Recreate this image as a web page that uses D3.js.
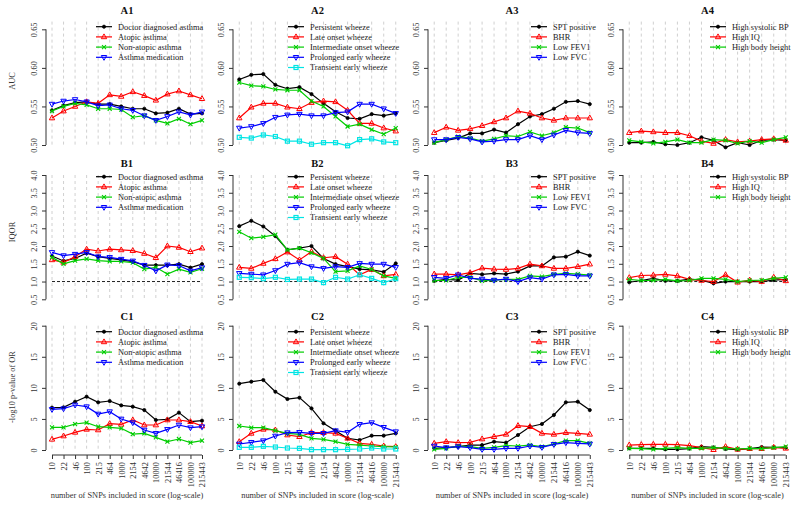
<!DOCTYPE html>
<html>
<head>
<meta charset="utf-8">
<script src="https://cdn.jsdelivr.net/npm/d3@7"></script>
<style>
body { margin: 0; background: #fff; }
svg { font-family: "Liberation Serif", "Times New Roman", serif; }
</style>
</head>
<body>
<svg id="chart" width="800" height="505"></svg>
<script>
// number of SNPs in the score, shown as tick labels on the x axis
const xLabels = ["10", "22", "46", "100", "215", "464", "1000", "2154", "4642", "10000", "21544", "46416", "100000", "215443"];

const legendAsthma = ["Doctor diagnosed asthma", "Atopic asthma", "Non-atopic asthma", "Asthma medication"];
const legendWheeze = ["Persistent wheeze", "Late onset wheeze", "Intermediate onset wheeze", "Prolonged early wheeze", "Transient early wheeze"];
const legendLung = ["SPT positive", "BHR", "Low FEV1", "Low FVC"];
const legendControl = ["High systolic BP", "High IQ", "High body height"];

// Row A: AUC
const aucAsthma = [
    [0.545, 0.551, 0.555, 0.556, 0.553, 0.553, 0.550, 0.547, 0.547, 0.541, 0.542, 0.547, 0.540, 0.541],
    [0.535, 0.544, 0.550, 0.556, 0.554, 0.565, 0.563, 0.569, 0.564, 0.558, 0.566, 0.570, 0.565, 0.560],
    [0.544, 0.550, 0.554, 0.552, 0.547, 0.547, 0.546, 0.536, 0.538, 0.532, 0.528, 0.534, 0.527, 0.532],
    [0.553, 0.557, 0.559, 0.556, 0.551, 0.552, 0.547, 0.545, 0.538, 0.532, 0.537, 0.543, 0.539, 0.543]
];
const aucWheeze = [
    [0.585, 0.591, 0.592, 0.578, 0.573, 0.575, 0.566, 0.554, 0.543, 0.535, 0.534, 0.540, 0.538, 0.541],
    [0.535, 0.549, 0.554, 0.554, 0.549, 0.547, 0.555, 0.557, 0.556, 0.545, 0.528, 0.528, 0.522, 0.518],
    [0.581, 0.577, 0.576, 0.572, 0.571, 0.571, 0.557, 0.550, 0.537, 0.524, 0.527, 0.520, 0.514, 0.522],
    [0.522, 0.524, 0.528, 0.536, 0.539, 0.540, 0.538, 0.538, 0.542, 0.543, 0.553, 0.553, 0.547, 0.541],
    [0.510, 0.509, 0.513, 0.511, 0.505, 0.505, 0.501, 0.503, 0.503, 0.499, 0.507, 0.508, 0.504, 0.503]
];
const aucLung = [
    [0.503, 0.506, 0.509, 0.515, 0.515, 0.520, 0.516, 0.527, 0.537, 0.540, 0.547, 0.556, 0.557, 0.553],
    [0.516, 0.523, 0.519, 0.521, 0.525, 0.530, 0.535, 0.544, 0.541, 0.535, 0.532, 0.535, 0.535, 0.535],
    [0.503, 0.507, 0.511, 0.509, 0.505, 0.508, 0.512, 0.511, 0.517, 0.512, 0.516, 0.523, 0.522, 0.516],
    [0.507, 0.507, 0.510, 0.508, 0.504, 0.505, 0.507, 0.507, 0.512, 0.507, 0.513, 0.519, 0.516, 0.515]
];
const aucControl = [
    [0.503, 0.503, 0.504, 0.501, 0.500, 0.503, 0.510, 0.506, 0.497, 0.503, 0.500, 0.506, 0.507, 0.506],
    [0.516, 0.518, 0.517, 0.516, 0.516, 0.512, 0.505, 0.502, 0.507, 0.504, 0.505, 0.507, 0.508, 0.506],
    [0.506, 0.504, 0.502, 0.504, 0.507, 0.503, 0.503, 0.507, 0.506, 0.502, 0.505, 0.503, 0.507, 0.510]
];

// Row B: IQOR
const iqorAsthma = [
    [1.72, 1.58, 1.65, 1.80, 1.70, 1.65, 1.61, 1.56, 1.46, 1.46, 1.46, 1.49, 1.39, 1.49],
    [1.61, 1.54, 1.70, 1.91, 1.86, 1.91, 1.89, 1.87, 1.79, 1.67, 2.00, 1.96, 1.84, 1.94],
    [1.68, 1.50, 1.59, 1.64, 1.59, 1.57, 1.57, 1.53, 1.35, 1.40, 1.21, 1.35, 1.26, 1.36],
    [1.82, 1.73, 1.77, 1.82, 1.70, 1.68, 1.63, 1.58, 1.46, 1.30, 1.47, 1.45, 1.30, 1.39]
];
const iqorWheeze = [
    [2.56, 2.71, 2.55, 2.28, 1.89, 1.94, 2.00, 1.65, 1.49, 1.42, 1.35, 1.33, 1.27, 1.51],
    [1.40, 1.37, 1.51, 1.64, 1.83, 1.61, 1.84, 1.67, 1.70, 1.49, 1.19, 1.34, 1.16, 1.20],
    [2.40, 2.22, 2.26, 2.32, 1.89, 1.94, 1.81, 1.65, 1.28, 1.30, 1.44, 1.34, 1.16, 1.09],
    [1.23, 1.21, 1.19, 1.31, 1.49, 1.53, 1.42, 1.37, 1.42, 1.40, 1.51, 1.49, 1.49, 1.40],
    [1.12, 1.11, 1.08, 1.12, 1.06, 1.07, 1.07, 0.97, 1.12, 1.07, 1.19, 1.09, 0.97, 1.08]
];
const iqorLung = [
    [1.02, 1.06, 1.04, 1.23, 1.20, 1.23, 1.21, 1.28, 1.44, 1.44, 1.68, 1.70, 1.84, 1.73],
    [1.21, 1.21, 1.19, 1.25, 1.38, 1.35, 1.34, 1.37, 1.49, 1.44, 1.37, 1.37, 1.42, 1.49],
    [1.03, 1.03, 1.12, 1.12, 1.02, 1.04, 1.06, 1.06, 1.16, 1.14, 1.20, 1.23, 1.21, 1.18],
    [1.12, 1.09, 1.19, 1.09, 1.07, 1.04, 1.07, 1.00, 1.11, 1.07, 1.19, 1.20, 1.16, 1.16]
];
const iqorControl = [
    [0.98, 1.03, 1.09, 1.02, 1.02, 1.07, 1.04, 0.95, 1.00, 1.00, 1.00, 1.00, 1.04, 1.06],
    [1.11, 1.17, 1.18, 1.20, 1.16, 1.06, 1.03, 1.00, 1.19, 0.98, 1.04, 1.00, 1.12, 1.02],
    [1.06, 1.03, 1.03, 1.06, 1.02, 1.03, 1.09, 1.09, 1.06, 1.00, 1.03, 1.04, 1.09, 1.12]
];

// Row C: -log10 p-value of OR
const pvalAsthma = [
    [6.81, 6.86, 7.77, 8.58, 7.67, 7.88, 7.18, 6.97, 6.43, 4.83, 4.93, 6.01, 4.56, 4.72],
    [1.72, 2.25, 2.84, 3.32, 3.22, 4.24, 4.13, 4.83, 4.02, 4.02, 4.83, 4.83, 4.56, 3.86],
    [3.65, 3.65, 4.18, 4.40, 3.75, 3.65, 3.49, 2.57, 2.68, 2.04, 1.34, 1.77, 1.18, 1.50],
    [6.54, 6.65, 7.24, 6.97, 5.79, 6.17, 4.99, 4.40, 3.22, 2.68, 3.32, 4.02, 3.59, 3.75]
];
const pvalWheeze = [
    [10.67, 10.99, 11.26, 9.38, 8.20, 8.42, 6.70, 4.29, 3.11, 1.88, 1.61, 2.31, 2.31, 2.68],
    [1.34, 2.68, 3.32, 3.22, 2.41, 2.14, 2.79, 2.79, 2.68, 1.88, 1.07, 0.91, 0.64, 0.54],
    [3.86, 3.59, 3.59, 3.11, 2.68, 2.52, 1.88, 1.72, 1.34, 0.91, 0.80, 0.64, 0.54, 0.48],
    [0.97, 1.23, 1.50, 2.25, 2.79, 2.84, 2.68, 2.68, 3.11, 2.84, 4.13, 4.40, 3.65, 2.95],
    [0.43, 0.43, 0.59, 0.48, 0.32, 0.27, 0.05, 0.05, 0.05, 0.11, 0.16, 0.32, 0.16, 0.16]
];
const pvalLung = [
    [0.27, 0.38, 0.54, 0.80, 0.80, 1.34, 1.18, 2.41, 3.75, 4.18, 5.63, 7.67, 7.77, 6.43],
    [1.07, 1.34, 1.18, 1.23, 1.77, 2.14, 2.52, 3.91, 3.75, 2.68, 2.52, 2.79, 2.68, 2.52],
    [0.11, 0.27, 0.64, 0.54, 0.27, 0.43, 0.70, 0.64, 0.80, 0.54, 0.97, 1.50, 1.50, 1.07],
    [0.64, 0.38, 0.54, 0.38, 0.11, 0.11, 0.27, 0.27, 0.64, 0.43, 0.91, 1.18, 1.07, 0.97]
];
const pvalControl = [
    [0.27, 0.27, 0.27, 0.11, 0.11, 0.21, 0.54, 0.43, 0.16, 0.05, 0.21, 0.48, 0.43, 0.38],
    [0.80, 0.86, 0.91, 0.91, 0.86, 0.70, 0.38, 0.05, 0.54, 0.11, 0.21, 0.21, 0.43, 0.27],
    [0.27, 0.21, 0.11, 0.27, 0.38, 0.27, 0.27, 0.38, 0.27, 0.16, 0.27, 0.21, 0.38, 0.54]
];

const legends = [legendAsthma, legendWheeze, legendLung, legendControl];

// R palette: black, red, green3, blue, cyan
const colors = ["#000000", "#ff0000", "#00cd00", "#0000ff", "#00e5e5"];
const shapes = ["circle", "triangle", "cross", "down", "square"];

// Panel geometry (left edge of plot region + width), per column
const cols = [
    { left: 46, w: 162, legendX: 118 },
    { left: 233, w: 169, legendX: 310 },
    { left: 428, w: 168, legendX: 553 },
    { left: 623, w: 169, legendX: 732 }
];

const rows = [
    { id: "A", ylab: "AUC", domain: [0.5, 0.66], range: [145, 21.6], ticks: [0.5, 0.55, 0.6, 0.65],
      fmt: d3.format(".2f"), titleY: 10, legendY: 26.7, ylabY: 81,
      data: [aucAsthma, aucWheeze, aucLung, aucControl] },
    { id: "B", ylab: "IQOR", domain: [0.5, 4], range: [299.3, 175], ticks: d3.range(0.5, 4.01, 0.5),
      fmt: d3.format(".1f"), titleY: 163, legendY: 176.7, ylabY: 232, refLine: 1,
      data: [iqorAsthma, iqorWheeze, iqorLung, iqorControl] },
    { id: "C", ylab: "-log10 p-value of OR", domain: [0, 20], range: [450, 325.7], ticks: [0, 5, 10, 15, 20],
      fmt: d3.format("d"), titleY: 316, legendY: 331.7, ylabY: 387, xAxis: 455,
      data: [pvalAsthma, pvalWheeze, pvalLung, pvalControl] }
];

const fontSize = 8.4;
const svg = d3.select("#chart");

// Draws an R-style plotting symbol centred on (0,0).
function drawSymbol(g, shape, color) {
    if (shape == "circle") {
        g.append("circle").attr("r", 1.6).attr("fill", color).attr("stroke", color).attr("stroke-width", 0.8);
    } else if (shape == "triangle") {
        g.append("path").attr("d", "M0,-3L2.7,1.8L-2.7,1.8Z")
            .attr("fill", "none").attr("stroke", color).attr("stroke-width", 1);
    } else if (shape == "down") {
        g.append("path").attr("d", "M0,3L2.7,-1.8L-2.7,-1.8Z")
            .attr("fill", "none").attr("stroke", color).attr("stroke-width", 1);
    } else if (shape == "cross") {
        g.append("path").attr("d", "M-2,-2L2,2M-2,2L2,-2")
            .attr("fill", "none").attr("stroke", color).attr("stroke-width", 1.1);
    } else if (shape == "square") {
        g.append("rect").attr("x", -2).attr("y", -2).attr("width", 4).attr("height", 4)
            .attr("fill", "none").attr("stroke", color).attr("stroke-width", 1.2);
    }
}

rows.forEach(function(row) {
    var y = d3.scaleLinear().domain(row.domain).range(row.range);

    cols.forEach(function(col, c) {
        var x = d3.scalePoint()
            .domain(xLabels)
            .range([col.left, col.left + col.w])
            .padding(0.52);
        var g = svg.append("g");
        var first = x(xLabels[0]), last = x(xLabels[xLabels.length - 1]);

        // Vertical dashed grid lines at each score size.
        g.selectAll(".grid")
            .data(xLabels)
            .enter()
            .append("line")
                .attr("x1", d => x(d)).attr("x2", d => x(d))
                .attr("y1", y(row.domain[1])).attr("y2", y(row.domain[0]))
                .attr("stroke", "#c4c4c4")
                .attr("stroke-width", 0.8)
                .attr("stroke-dasharray", "3,3");

        // Reference line at OR = 1.
        if (row.refLine !== undefined) {
            g.append("line")
                .attr("x1", first).attr("x2", last)
                .attr("y1", y(row.refLine)).attr("y2", y(row.refLine))
                .attr("stroke", "#222")
                .attr("stroke-dasharray", "3,2");
        }

        // Y axis
        var yAxis = g.append("g")
            .attr("transform", "translate(" + col.left + ",0)")
            .call(d3.axisLeft(y).tickValues(row.ticks).tickFormat(row.fmt).tickSize(4));
        yAxis.select(".domain").remove();
        yAxis.append("line")
            .attr("y1", y(row.ticks[0])).attr("y2", y(row.ticks[row.ticks.length - 1]))
            .attr("stroke", "#333");
        yAxis.selectAll(".tick line").attr("stroke", "#333");
        yAxis.selectAll(".tick text")
            .attr("x", 0).attr("dy", "0.35em")
            .attr("transform", "translate(-12,0) rotate(-90)")
            .attr("text-anchor", "middle")
            .attr("fill", "#333")
            .style("font-family", "Liberation Serif")
            .style("font-size", fontSize + "px");

        // X axis (bottom row only)
        if (row.xAxis) {
            var xAxis = g.append("g")
                .attr("transform", "translate(0," + row.xAxis + ")")
                .call(d3.axisBottom(x).tickSize(4));
            xAxis.select(".domain").remove();
            xAxis.append("line").attr("x1", first).attr("x2", last).attr("stroke", "#333");
            xAxis.selectAll(".tick line").attr("stroke", "#333");
            xAxis.selectAll(".tick text")
                .attr("x", 0).attr("y", 0).attr("dy", "0.35em")
                .attr("transform", "translate(0,7) rotate(-90)")
                .attr("text-anchor", "end")
                .attr("fill", "#333")
                .style("font-family", "Liberation Serif")
                .style("font-size", fontSize + "px");

            g.append("text")
                .attr("x", col.left + col.w / 2).attr("y", 495)
                .attr("dy", "0.35em")
                .attr("text-anchor", "middle")
                .attr("fill", "#333")
                .style("font-size", fontSize + "px")
                .text("number of SNPs included in score (log-scale)");
        }

        // Series
        var line = d3.line().x((d, i) => x(xLabels[i])).y(d => y(d));
        row.data[c].forEach(function(values, s) {
            g.append("path")
                .datum(values)
                .attr("d", line)
                .attr("fill", "none")
                .attr("stroke", colors[s])
                .attr("stroke-width", 1.2);
            values.forEach(function(v, i) {
                var m = g.append("g").attr("transform", "translate(" + x(xLabels[i]) + "," + y(v) + ")");
                drawSymbol(m, shapes[s], colors[s]);
            });
        });

        // Panel title
        g.append("text")
            .attr("x", col.left + col.w / 2).attr("y", row.titleY)
            .attr("dy", "0.35em")
            .attr("text-anchor", "middle")
            .attr("font-weight", "bold")
            .attr("fill", "#111")
            .style("font-size", "10.5px")
            .text(row.id + (c + 1));

        // Legend (no box)
        legends[c].forEach(function(name, s) {
            var ly = row.legendY + s * 10.2;
            g.append("line")
                .attr("x1", col.legendX - 22).attr("x2", col.legendX - 6)
                .attr("y1", ly).attr("y2", ly)
                .attr("stroke", colors[s]).attr("stroke-width", 1.2);
            var m = g.append("g").attr("transform", "translate(" + (col.legendX - 14) + "," + ly + ")");
            drawSymbol(m, shapes[s], colors[s]);
            g.append("text")
                .attr("x", col.legendX).attr("y", ly)
                .attr("dy", "0.35em")
                .attr("fill", "#222")
                .style("font-size", fontSize + "px")
                .text(name);
        });

        // Y axis title, first column only
        if (c == 0) {
            g.append("text")
                .attr("transform", "translate(12," + row.ylabY + ") rotate(-90)")
                .attr("dy", "0.35em")
                .attr("text-anchor", "middle")
                .attr("fill", "#333")
                .style("font-size", fontSize + "px")
                .text(row.ylab);
        }
    });
});
</script>
</body>
</html>
